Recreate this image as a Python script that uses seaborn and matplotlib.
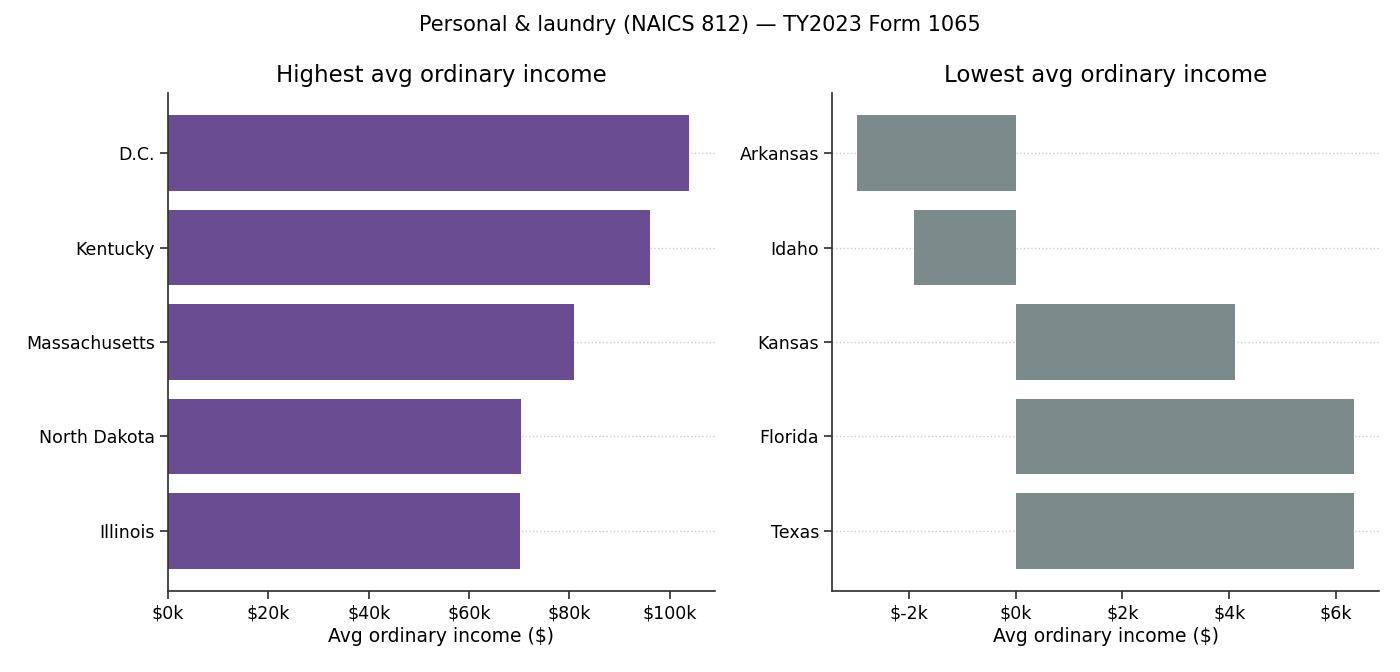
import pandas as pd
import seaborn as sns
import matplotlib.pyplot as plt
from matplotlib.ticker import FuncFormatter

top_states = ["D.C.", "Kentucky", "Massachusetts", "North Dakota", "Illinois"]
top_income = [103800, 96100, 80900, 70400, 70200]

bottom_states = ["Arkansas", "Idaho", "Kansas", "Florida", "Texas"]
bottom_income = [-2970, -1900, 4100, 6340, 6340]

sns.set_theme(style="ticks", rc={
    "axes.spines.top": False,
    "axes.spines.right": False,
    "axes.edgecolor": "#333333",
    "text.color": "black",
    "axes.labelcolor": "black",
    "xtick.color": "#333333",
    "ytick.color": "#333333",
    "xtick.labelcolor": "black",
    "ytick.labelcolor": "black",
})
plt.rcParams["font.family"] = ["DejaVu Sans"]

top = pd.DataFrame({"state": top_states, "income": top_income})
bottom = pd.DataFrame({"state": bottom_states, "income": bottom_income})

fig, axes = plt.subplots(1, 2, figsize=(14, 6.72), dpi=100)
money = FuncFormatter(lambda v, p: f"${v/1000:.0f}k")

panels = [
    (axes[0], top, "#6a4c93", "Highest avg ordinary income"),
    (axes[1], bottom, "#7b8a8b", "Lowest avg ordinary income"),
]
for ax, df, col, title in panels:
    sns.barplot(data=df, x="income", y="state", color=col, width=0.8,
                saturation=1, linewidth=0, ax=ax)
    ax.set_title(title, fontsize=16.5, pad=8)
    ax.set_xlabel("Avg ordinary income ($)", fontsize=13.5, labelpad=3)
    ax.set_ylabel("")
    ax.xaxis.set_major_formatter(money)
    ax.tick_params(labelsize=12.5)
    ax.grid(axis="y", linestyle=":", color="#cccccc", linewidth=1)
    ax.set_axisbelow(True)
    ax.margins(x=0.05)
    n = len(df)
    ax.set_ylim(n - 1 + 0.4 + 0.05 * (n - 0.2), -0.4 - 0.05 * (n - 0.2))

axes[0].set_xlim(0, max(top_income) * 1.05)

fig.suptitle("Personal & laundry (NAICS 812) — TY2023 Form 1065", fontsize=15, y=0.978)
fig.subplots_adjust(left=0.12, right=0.985, top=0.862, bottom=0.12, wspace=0.215)
fig.savefig("out.png", dpi=100)
